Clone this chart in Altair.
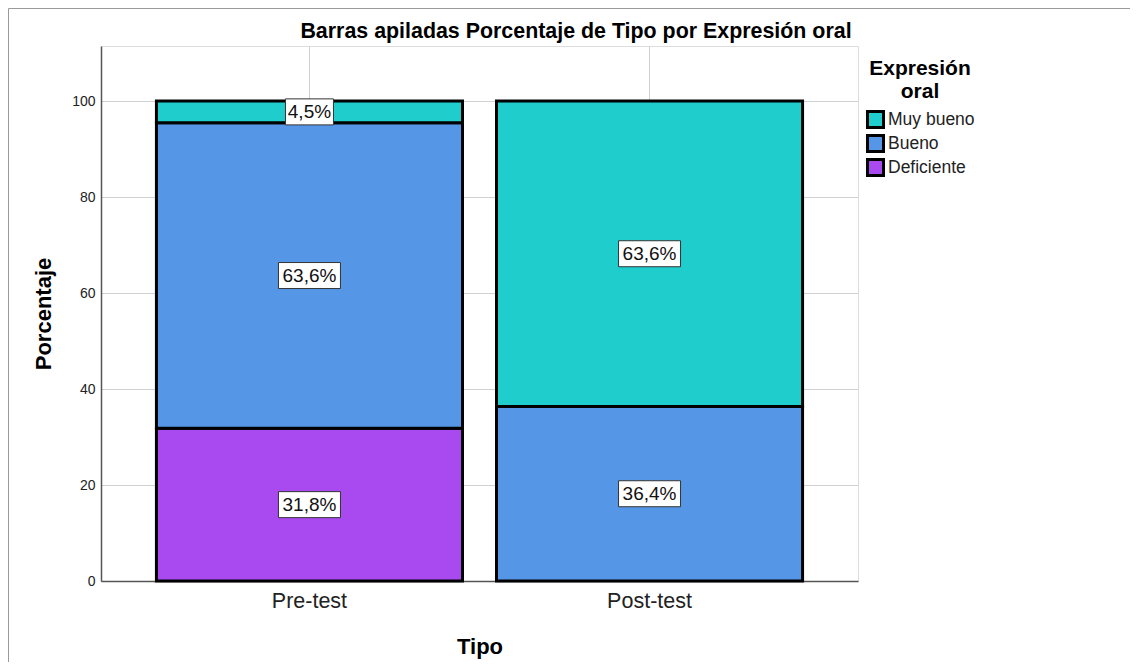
import altair as alt
import pandas as pd

# ---- data ----
tipo = ["Pre-test", "Pre-test", "Pre-test", "Post-test", "Post-test"]
nivel = ["Deficiente", "Bueno", "Muy bueno", "Bueno", "Muy bueno"]
porcentaje = [31.82, 63.64, 4.55, 36.36, 63.64]
tipo_orden = ["Pre-test", "Post-test"]
nivel_orden = ["Muy bueno", "Bueno", "Deficiente"]
apilado = {"Deficiente": 0, "Bueno": 1, "Muy bueno": 2}
colores = ["#1fcdcd", "#5597e6", "#a94af0"]
y_ticks = [0, 20, 40, 60, 80, 100]

FONT = "Liberation Sans"

df = pd.DataFrame({"tipo": tipo, "nivel": nivel, "pct": porcentaje})
df["rank"] = df["nivel"].map(apilado)
df["label"] = df["pct"].map(lambda v: f"{v:.1f}".replace(".", ",") + "%")


def caja(lbl):
    w = 48 if len(lbl) <= 4 else 62
    h = 26
    return f"M{-w/2},{-h/2}L{w/2},{-h/2}L{w/2},{h/2}L{-w/2},{h/2}Z"


df["box"] = df["label"].map(caja)

x_enc = alt.X(
    "tipo:N",
    sort=tipo_orden,
    scale=alt.Scale(domain=tipo_orden, paddingInner=0.1, paddingOuter=0.163),
    axis=alt.Axis(
        title="Tipo",
        titleFont=FONT,
        titleFontSize=22,
        titleFontWeight="bold",
        titleColor="#000",
        titleY=72,
        titleBaseline="alphabetic",
        labelFont=FONT,
        labelFontSize=21.5,
        labelColor="#222",
        labelAngle=0,
        labelPadding=9,
        ticks=False,
        domainColor="#555",
        domainWidth=1.5,
        grid=True,
        bandPosition=0.5,
        gridColor="#d0d0d0",
        gridWidth=1,
    ),
)

y_scale = alt.Scale(domain=[0, 111.46], nice=False, zero=True)

base = alt.Chart(df).transform_stack(
    stack="pct",
    groupby=["tipo"],
    sort=[alt.SortField("rank", order="ascending")],
    as_=["y0", "y1"],
).transform_calculate(mid="(datum.y0 + datum.y1) / 2")

bars = base.mark_bar(stroke="black", strokeWidth=3).encode(
    x=x_enc,
    y=alt.Y(
        "y0:Q",
        scale=y_scale,
        axis=alt.Axis(
            values=y_ticks,
            title="Porcentaje",
            titleFont=FONT,
            titleFontSize=22,
            titleFontWeight="bold",
            titleColor="#000",
            titleX=-51,
            titleY=267.5,
            titleAngle=-90,
            titleBaseline="alphabetic",
            titleAnchor="middle",
            labelFont=FONT,
            labelFontSize=14,
            labelColor="#222",
            labelPadding=6,
            ticks=False,
            domainColor="#555",
            domainWidth=1.5,
            grid=True,
            gridColor="#d0d0d0",
            gridWidth=1,
        ),
    ),
    y2="y1:Q",
    color=alt.Color(
        "nivel:N",
        scale=alt.Scale(domain=nivel_orden, range=colores),
        legend=alt.Legend(
            title=["Expresión", "oral"],
            orient="none",
            legendX=765,
            legendY=12,
            padding=0,
            titleFont=FONT,
            titleFontSize=21,
            titleFontWeight="bold",
            titleColor="#000",
            titleAnchor="middle",
            titleAlign="center",
            titleLineHeight=23,
            titlePadding=8,
            labelFont=FONT,
            labelFontSize=17.5,
            labelColor="#222",
            labelOffset=3,
            symbolType="square",
            symbolSize=256,
            symbolStrokeColor="black",
            symbolStrokeWidth=3,
            symbolOpacity=1,
            rowPadding=-9,
        ),
    ),
)

boxes = base.mark_point(
    filled=True, fill="white", stroke="#333", strokeWidth=1, size=4, opacity=1
).encode(
    x=alt.X("tipo:N", sort=tipo_orden),
    y=alt.Y("mid:Q", scale=y_scale),
    shape=alt.Shape("box:N", scale=None),
)

labels = base.mark_text(font=FONT, fontSize=19, color="#111", baseline="middle").encode(
    x=alt.X("tipo:N", sort=tipo_orden),
    y=alt.Y("mid:Q", scale=y_scale),
    text="label:N",
)

frame = alt.Chart(pd.DataFrame({"a": [0]})).mark_rect(
    fill="transparent", stroke="#9a9a9a", strokeWidth=1
).encode(
    x=alt.value(-92.5), y=alt.value(-37.5), x2=alt.value(1300), y2=alt.value(800)
)

chart = (
    alt.layer(frame, bars, boxes, labels)
    .properties(
        width=757,
        height=535,
        autosize=alt.AutoSizeParams(type="none"),
        padding={"left": 93, "top": 38, "right": 272, "bottom": 81},
        title=alt.TitleParams(
            "Barras apiladas Porcentaje de Tipo por Expresión oral",
            font=FONT,
            fontSize=21.4,
            fontWeight="bold",
            color="#000",
            anchor="middle",
            frame="group",
            dx=96.5,
            dy=42,
            offset=8,
        ),
    )
    .configure_view(stroke="#555", strokeWidth=1.5)
    .configure(background="white")
)

chart.save("out.html", embed_options={"renderer": "svg", "actions": False})
